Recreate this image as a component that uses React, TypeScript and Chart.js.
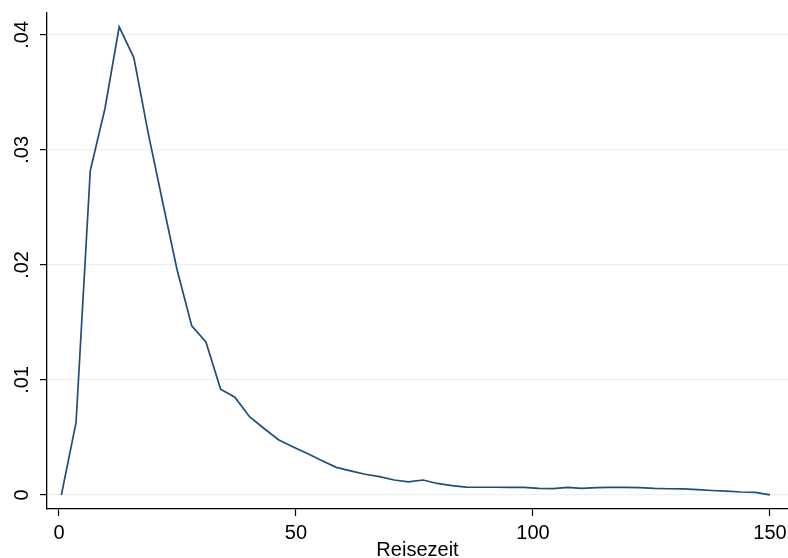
import { useEffect, useRef } from 'react';
import { Chart, registerables } from 'chart.js';

Chart.register(...registerables);

const travelTime = [0.5, 3.6, 6.6, 9.7, 12.7, 15.8, 18.8, 21.9, 24.9, 28.0, 31.0, 34.1, 37.1, 40.2, 43.2, 46.3, 49.3, 52.4, 55.4, 58.5, 61.5, 64.6, 67.6, 70.7, 73.7, 76.8, 79.8, 82.9, 85.9, 89.0, 92.0, 95.1, 98.1, 101.2, 104.2, 107.3, 110.3, 113.4, 116.4, 119.5, 122.5, 125.6, 128.6, 131.7, 134.7, 137.8, 140.8, 143.9, 146.9, 150.0];
const density = [0, 0.0063, 0.0282, 0.0336, 0.0407, 0.0380, 0.0315, 0.0254, 0.0196, 0.0147, 0.0133, 0.0092, 0.0085, 0.0068, 0.0058, 0.0048, 0.0042, 0.0036, 0.0030, 0.0024, 0.0021, 0.0018, 0.0016, 0.0013, 0.00114, 0.0013, 0.0010, 0.00082, 0.00068, 0.00067, 0.00067, 0.00066, 0.00066, 0.00058, 0.00056, 0.00066, 0.00058, 0.00064, 0.00066, 0.00066, 0.00064, 0.00057, 0.00054, 0.00053, 0.00046, 0.00039, 0.00033, 0.00026, 0.00023, 0.00001];

const xTickValues = [0, 50, 100, 150];
const xTickLabels = ['0', '50', '100', '150'];
const yTickValues = [0, 0.01, 0.02, 0.03, 0.04];
const yTickLabels = ['0', '.01', '.02', '.03', '.04'];
const xAxisTitle = 'Reisezeit';

const FONT_FAMILY = '"Liberation Sans", Arial, sans-serif';

export default function App() {
  const ref = useRef<HTMLCanvasElement>(null);

  useEffect(() => {
    const canvas = ref.current;
    if (!canvas) return;

    const yLabelPlugin = {
      id: 'yRotLabels',
      afterDraw(chart: any) {
        const ys = chart.scales.y;
        const ctx = chart.ctx;
        ctx.save();
        ctx.fillStyle = '#000';
        ctx.font = `20px ${FONT_FAMILY}`;
        ctx.textAlign = 'center';
        ctx.textBaseline = 'alphabetic';
        yTickValues.forEach((v, i) => {
          const py = ys.getPixelForValue(v);
          ctx.save();
          ctx.translate(28, py);
          ctx.rotate(-Math.PI / 2);
          ctx.fillText(yTickLabels[i], 0, 0);
          ctx.restore();
        });
        ctx.restore();
      },
    };

    const chart = new Chart(canvas, {
      type: 'line',
      data: {
        datasets: [
          {
            data: travelTime.map((x, i) => ({ x, y: density[i] })),
            borderColor: '#1f4e7a',
            borderWidth: 1.7,
            pointRadius: 0,
            fill: false,
            tension: 0,
          },
        ],
      },
      options: {
        animation: false,
        responsive: false,
        devicePixelRatio: 1,
        layout: { padding: { top: 13, right: 0, left: 0, bottom: 0 } },
        plugins: { legend: { display: false }, tooltip: { enabled: false } },
        scales: {
          x: {
            type: 'linear',
            min: -2.53,
            max: 153.8,
            afterBuildTicks: (s: any) => {
              s.ticks = xTickValues.map((v) => ({ value: v }));
            },
            afterFit: (s: any) => {
              s.height = 49;
              s.paddingLeft = 0;
              s.paddingRight = 0;
            },
            ticks: {
              callback: (v: any) => {
                const idx = xTickValues.indexOf(Number(v));
                return idx >= 0 ? xTickLabels[idx] : '';
              },
              font: { family: FONT_FAMILY, size: 20 },
              color: '#000',
              padding: 5,
              maxRotation: 0,
              autoSkip: false,
            },
            grid: {
              drawOnChartArea: false,
              tickLength: 7,
              tickColor: '#000',
              tickWidth: 1.2,
            },
            border: { color: '#000', width: 1.3 },
            title: {
              display: true,
              text: xAxisTitle,
              font: { family: FONT_FAMILY, size: 20 },
              color: '#000',
              padding: { top: 0, bottom: -4 },
            },
          },
          y: {
            type: 'linear',
            min: -0.00122,
            max: 0.0419,
            afterBuildTicks: (s: any) => {
              s.ticks = yTickValues.map((v) => ({ value: v }));
            },
            afterFit: (s: any) => {
              s.width = 47;
              s.paddingTop = 0;
              s.paddingBottom = 0;
            },
            ticks: {
              callback: (v: any) => {
                const idx = yTickValues.indexOf(Number(v));
                return idx >= 0 ? yTickLabels[idx] : '';
              },
              color: 'rgba(0,0,0,0)',
              font: { family: FONT_FAMILY, size: 20 },
              autoSkip: false,
            },
            grid: {
              color: '#eaf2f3',
              lineWidth: 1.2,
              tickColor: '#000',
              tickLength: 7,
              tickWidth: 1.2,
            },
            border: { color: '#000', width: 1.3 },
          },
        },
      },
      plugins: [yLabelPlugin],
    });

    return () => chart.destroy();
  }, []);

  return (
    <canvas
      ref={ref}
      width={788}
      height={558}
      style={{ position: 'fixed', left: 0, top: 0, width: 788, height: 558 }}
    />
  );
}
